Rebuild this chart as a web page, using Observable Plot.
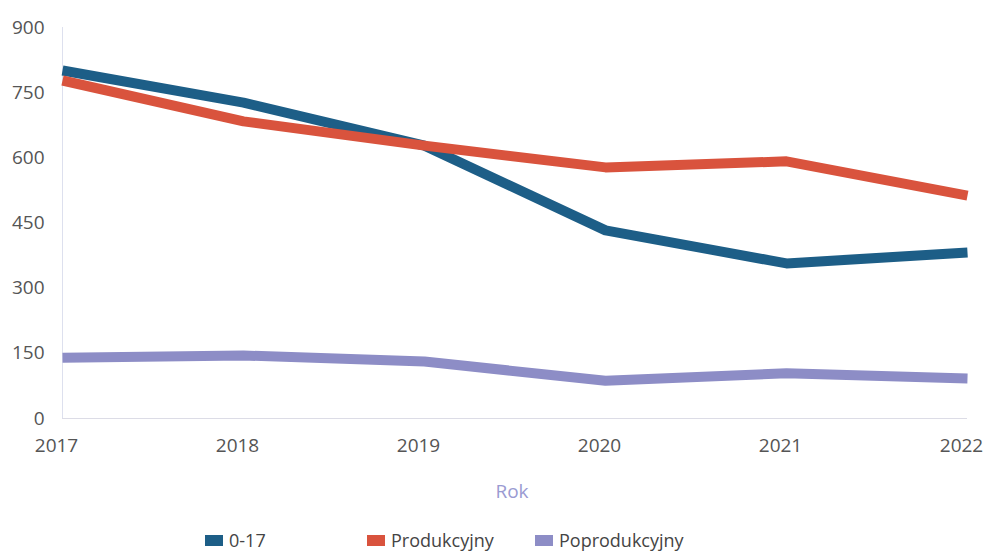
<!DOCTYPE html>
<html>
<head>
<meta charset="utf-8">
<script src="https://cdn.jsdelivr.net/npm/d3@7"></script>
<script src="https://cdn.jsdelivr.net/npm/@observablehq/plot@0.6"></script>
<style>
  body { margin: 0; background: #fff; font-family: "Open Sans", sans-serif; }
  #legend { height: 43px; font-size: 18px; color: #444; position: relative; }
  .item { position: absolute; display: flex; align-items: center; top: 18px; }
  .sw { width: 18px; height: 11px; margin-right: 6px; }
</style>
</head>
<body>
<div id="chart"></div>
<div id="legend"></div>
<script>
const years = [2017, 2018, 2019, 2020, 2021, 2022];
const series = ["0-17", "Produkcyjny", "Poprodukcyjny"];
const colors = ["#1d5e87", "#d9533d", "#8d8dc6"];
const v017 = [801, 727, 628, 433, 357, 382];
const vProd = [778, 684, 628, 578, 592, 513];
const vPoprod = [140, 145, 131, 87, 104, 92];
const yTicks = [0, 150, 300, 450, 600, 750, 900];

const allVals = [v017, vProd, vPoprod];
const data = [];
series.forEach((s, i) => years.forEach((y, j) => data.push({ series: s, year: y, value: allVals[i][j] })));

const chart = Plot.plot({
  width: 987,
  height: 510,
  marginTop: 27,
  marginBottom: 92,
  marginLeft: 62,
  marginRight: 20,
  style: { fontFamily: "Open Sans, sans-serif", fontSize: "19px", color: "#555" },
  x: { domain: [2017, 2022], ticks: years, tickFormat: d3.format("d"), label: null },
  y: { domain: [0, 900], ticks: yTicks, label: null },
  color: { domain: series, range: colors },
  marks: [
    Plot.ruleX([2017], { stroke: "#dde0ee", strokeWidth: 1 }),
    Plot.ruleY([0], { stroke: "#dcdce6", strokeWidth: 1 }),
    Plot.axisY({ ticks: yTicks, tickSize: 0, tickPadding: 18, fontSize: 19, fill: "#555", label: null }),
    Plot.axisX({ ticks: years, tickSize: 0, tickPadding: 20, fontSize: 19, fill: "#555", dx: -6, tickFormat: d3.format("d"), label: null }),
    Plot.text(["Rok"], { frameAnchor: "bottom", dy: 79, dx: -3, fill: "#9a9ad2", fontSize: 19 }),
    Plot.line(data, { x: "year", y: "value", z: "series", stroke: "series", strokeWidth: 10, strokeLinejoin: "round", strokeLinecap: "butt" })
  ]
});
document.getElementById("chart").appendChild(chart);

const legend = document.getElementById("legend");
const lefts = [205, 367, 535];
series.forEach((s, i) => {
  const it = document.createElement("div");
  it.className = "item";
  it.style.left = lefts[i] + "px";
  it.innerHTML = `<span class="sw" style="background:${colors[i]}"></span><span>${s}</span>`;
  legend.appendChild(it);
});
</script>
</body>
</html>
